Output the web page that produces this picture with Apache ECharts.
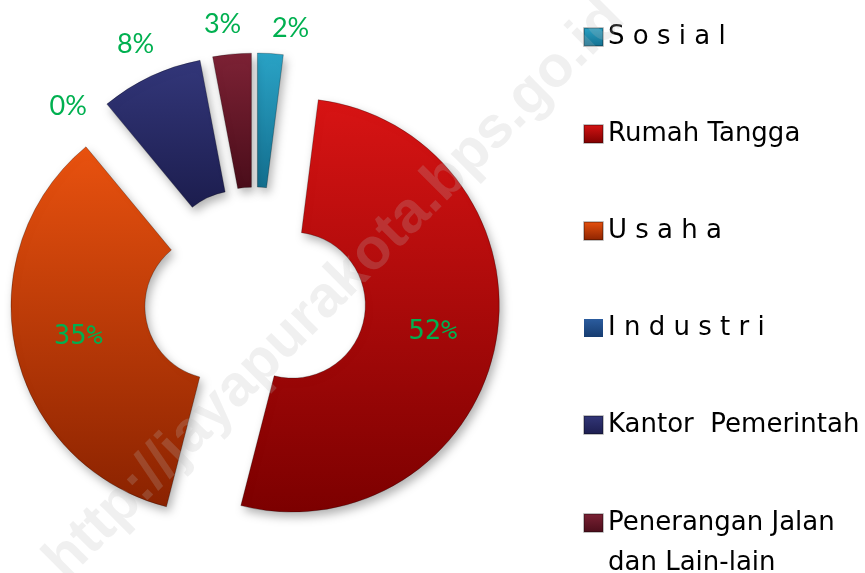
<!DOCTYPE html>
<html>
<head>
    <meta charset="UTF-8">
    <script src="https://cdn.jsdelivr.net/npm/echarts@6/dist/echarts.min.js"></script>
    <title>Pie</title>
</head>
<body style="margin:0;background:#fff">
    <div id="chart" style="width:865px;height:573px;"></div>

    <script type="text/javascript">
        // data
        var names = ['Sosial', 'Rumah Tangga', 'Usaha', 'Industri', 'Kantor Pemerintah', 'Penerangan Jalan dan Lain-lain'];
        var legendLabels = ['S o s i a l', 'Rumah Tangga', 'U s a h a', 'I n d u s t r i', 'Kantor  Pemerintah', 'Penerangan Jalan\ndan Lain-lain'];
        var values = [2, 52, 35, 0, 8, 3];
        var bigLabels = ['Rumah Tangga', 'Usaha'];

        // top / bottom colours of each slice
        var colorTop = ['#2aa3c6', '#d81414', '#e9520f', '#2b5c9e', '#33377a', '#7d2235'];
        var colorBot = ['#146f8f', '#7c0000', '#8a2200', '#163c70', '#1c1d4e', '#4a0d1a'];

        // small nudges so the outer labels sit where Excel put them
        var outerLabelShift = {
            'Sosial': [18, 10],
            'Penerangan Jalan dan Lain-lain': [-6, 6],
            'Industri': [-8, 24]
        };

        function grad(i) {
            return new echarts.graphic.LinearGradient(0, 0, 0, 1, [
                { offset: 0, color: colorTop[i] },
                { offset: 1, color: colorBot[i] }
            ]);
        }

        var center = [255, 298];

        var mainData = names.map(function (n, i) {
            var big = bigLabels.indexOf(n) >= 0;
            var st = { color: grad(i) };
            if (values[i] === 0) {
                st.borderWidth = 0;
                st.shadowColor = 'transparent';
            }
            return {
                name: n,
                value: values[i],
                selected: true,
                itemStyle: st,
                label: { show: big }
            };
        });

        var labelData = names.map(function (n, i) {
            var big = bigLabels.indexOf(n) >= 0;
            return {
                name: n,
                value: values[i],
                label: { show: !big, offset: outerLabelShift[n] || [0, 0] }
            };
        });

        var legendText = {
            fontFamily: 'DejaVu Sans',
            fontSize: 26,
            lineHeight: 40,
            color: '#000'
        };

        // the two-line legend entry: an empty first line keeps the marker on "Penerangan Jalan"
        function legendFmt(name) {
            var t = legendLabels[names.indexOf(name)];
            return t.indexOf('\n') >= 0 ? '\n' + t : t;
        }

        var chart = echarts.init(document.getElementById('chart'));
        chart.setOption({
            animation: false,
            legend: [{
                orient: 'vertical',
                left: 578,
                top: 12,
                height: 520,
                itemWidth: 19,
                itemHeight: 18,
                itemGap: 57,
                icon: 'rect',
                selectedMode: false,
                data: names.slice(0, 5),
                formatter: legendFmt,
                textStyle: legendText
            }, {
                orient: 'vertical',
                left: 578,
                top: 458,
                height: 200,
                itemWidth: 19,
                itemHeight: 18,
                icon: 'rect',
                selectedMode: false,
                data: names.slice(5),
                formatter: legendFmt,
                textStyle: legendText
            }],
            graphic: [{
                type: 'text',
                x: 335,
                y: 290,
                rotation: Math.PI / 4,
                z: 100,
                silent: true,
                style: {
                    text: 'http://jayapurakota.bps.go.id',
                    font: 'bold 58px "Liberation Sans"',
                    fill: 'rgba(185,185,185,0.22)',
                    textAlign: 'center',
                    textVerticalAlign: 'middle'
                }
            }],
            series: [{
                type: 'pie',
                center: center,
                radius: [73, 207],
                startAngle: 90,
                clockwise: true,
                selectedMode: 'multiple',
                selectedOffset: 38,
                avoidLabelOverlap: false,
                itemStyle: {
                    borderColor: 'rgba(0,0,0,0.25)',
                    borderWidth: 1,
                    shadowBlur: 10,
                    shadowOffsetX: 3,
                    shadowOffsetY: 5,
                    shadowColor: 'rgba(0,0,0,0.3)'
                },
                label: {
                    position: 'inside',
                    formatter: '{c}%',
                    color: '#00b050',
                    fontFamily: 'DejaVu Sans Mono',
                    fontSize: 27
                },
                labelLine: { show: false },
                emphasis: { disabled: true },
                data: mainData
            }, {
                // only carries the outer labels of the thin slices
                type: 'pie',
                silent: true,
                center: center,
                radius: [265, 290],
                startAngle: 90,
                clockwise: true,
                itemStyle: { color: 'transparent' },
                label: {
                    position: 'inside',
                    formatter: '{c}%',
                    color: '#00b050',
                    fontFamily: 'Lato',
                    fontSize: 27
                },
                labelLine: { show: false },
                emphasis: { disabled: true },
                data: labelData
            }]
        });
    </script>
</body>
</html>
